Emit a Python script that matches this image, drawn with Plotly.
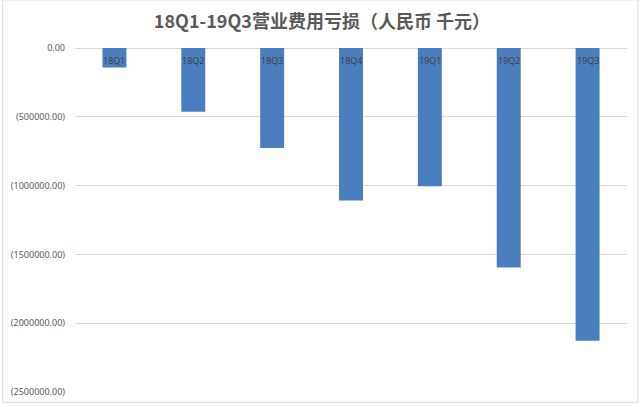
import plotly.graph_objects as go

categories = ["18Q1", "18Q2", "18Q3", "18Q4", "19Q1", "19Q2", "19Q3"]
values = [-142000, -464000, -726000, -1108000, -1005000, -1596000, -2128000]
tick_vals = [0, -500000, -1000000, -1500000, -2000000, -2500000]
tick_text = ["0.00", "(500000.00)", "(1000000.00)", "(1500000.00)", "(2000000.00)", "(2500000.00)"]
title_text = "18Q1-19Q3营业费用亏损（人民币 千元）"

fig = go.Figure()
fig.add_trace(go.Bar(x=categories, y=values, marker=dict(color="#4a7ebf", line=dict(width=0))))

for c in categories:
    fig.add_annotation(x=c, y=0, text=c, showarrow=False, yanchor="top", yshift=-4,
                       font=dict(size=9, color="#404040", family="Noto Sans"))

fig.add_shape(type="rect", xref="paper", yref="paper", x0=-0.131, x1=1.02, y0=-0.03, y1=1.14,
              line=dict(color="#d9d9d9", width=1))

fig.update_layout(
    width=640, height=407,
    margin=dict(l=75, r=13, t=48, b=9),
    paper_bgcolor="white", plot_bgcolor="white",
    bargap=0.696,
    showlegend=False,
    font=dict(family="Noto Sans CJK SC", color="#595959"),
    title=dict(text="<b>" + title_text + "</b>", x=0.503, xanchor="center", y=0.946, yanchor="middle",
               font=dict(size=18, color="#595959", family="Noto Sans CJK SC")),
    xaxis=dict(showticklabels=False, showgrid=False, zeroline=False, showline=False,
               range=[-0.5, 6.5]),
    yaxis=dict(range=[-2500000, 0], tickvals=tick_vals, ticktext=tick_text,
               showgrid=True, gridcolor="#d9d9d9", gridwidth=1, zeroline=True,
               zerolinecolor="#d9d9d9", zerolinewidth=1, showline=False,
               tickfont=dict(size=9, color="#595959", family="Noto Sans"),
               ticklabelstandoff=9),
)

fig.write_html("out.html", config={"displayModeBar": False},
               post_script="document.body.style.margin='0';document.body.style.overflow='hidden';")
